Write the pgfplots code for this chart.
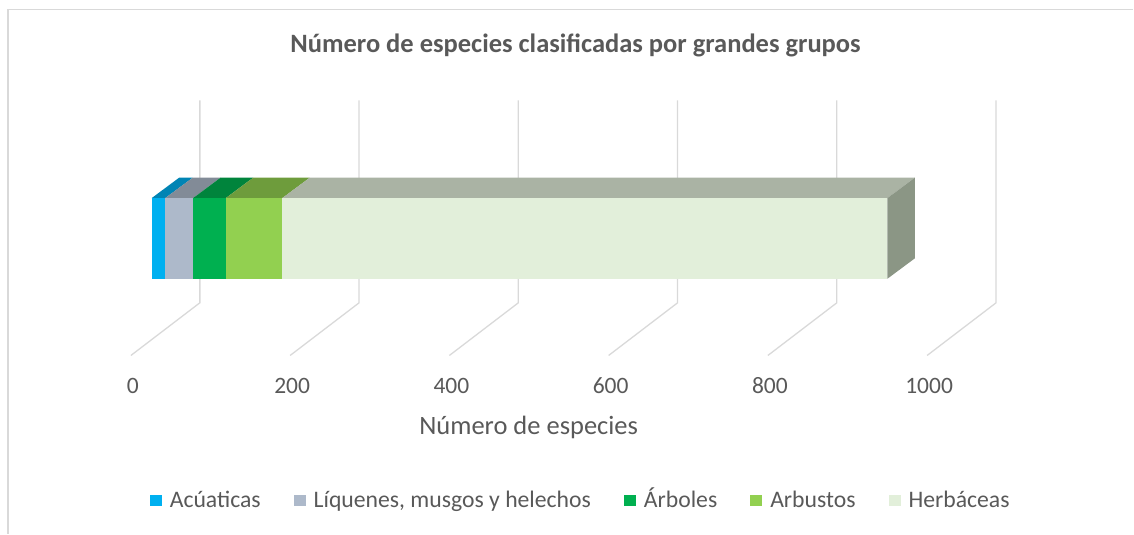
\documentclass[border=0pt]{standalone}
\usepackage{pgfplots}
\pgfplotsset{compat=1.18}
\usepackage{fontspec}
\setmainfont{Carlito}
\definecolor{txt}{HTML}{595959}
\definecolor{gridc}{HTML}{D9D9D9}
\definecolor{cAcu}{HTML}{00B0F0}
\definecolor{cAcuT}{HTML}{0084B4}
\definecolor{cLiq}{HTML}{ADB9CA}
\definecolor{cLiqT}{HTML}{828B97}
\definecolor{cArb}{HTML}{00B050}
\definecolor{cArbT}{HTML}{00843C}
\definecolor{cArs}{HTML}{92D050}
\definecolor{cArsT}{HTML}{6E9C3C}
\definecolor{cHer}{HTML}{E2EFDA}
\definecolor{cHerT}{HTML}{AAB3A4}
\definecolor{cHerS}{HTML}{8B9685}

\pgfplotsset{
  base/.style={width=1134bp,height=534bp,scale only axis,
    xmin=-190.4,xmax=1232.9,ymin=0,ymax=534,hide axis,clip=false},
  sq/.style={legend image code/.code={\fill[##1] (0bp,-6bp) rectangle (12bp,5bp);}},
  gl/.style={gridc, line width=1.3bp, forget plot},
  face/.style={draw=none, forget plot},
}
\begin{document}
\begin{tikzpicture}
\begin{axis}[base]
% full picture area
\path (axis description cs:0,0) rectangle (axis description cs:1,1);
% frame
\draw[gridc, line width=1.5bp] (axis description cs:0.00705,0) -- (axis description cs:0.00705,0.9826) -- (axis description cs:1,0.9826);
% gridlines (floor front -> back wall -> top)
\addplot[gl] coordinates {(-26,178.3) (60.6,231) (60.6,433.5)};
\addplot[gl] coordinates {(174,178.3) (260.6,231) (260.6,433.5)};
\addplot[gl] coordinates {(374,178.3) (460.6,231) (460.6,433.5)};
\addplot[gl] coordinates {(574,178.3) (660.6,231) (660.6,433.5)};
\addplot[gl] coordinates {(774,178.3) (860.6,231) (860.6,433.5)};
\addplot[gl] coordinates {(974,178.3) (1060.6,231) (1060.6,433.5)};
% top faces of the stacked bar
\addplot[face, fill=cAcuT] coordinates {(0,335.7) (17,335.7) (51.6,356.2) (34.6,356.2)} -- cycle;
\addplot[face, fill=cLiqT] coordinates {(17,335.7) (52,335.7) (86.6,356.2) (51.6,356.2)} -- cycle;
\addplot[face, fill=cArbT] coordinates {(52,335.7) (93,335.7) (127.6,356.2) (86.6,356.2)} -- cycle;
\addplot[face, fill=cArsT] coordinates {(93,335.7) (164,335.7) (198.6,356.2) (127.6,356.2)} -- cycle;
\addplot[face, fill=cHerT] coordinates {(164,335.7) (924,335.7) (958.6,356.2) (198.6,356.2)} -- cycle;
% right side face
\addplot[face, fill=cHerS] coordinates {(924,255) (924,335.7) (958.6,356.2) (958.6,275.5)} -- cycle;
% tick labels
\begin{scope}[every node/.style={text=txt, font=\fontsize{23.5bp}{28bp}\selectfont, anchor=base, inner sep=0pt}]
\node at (axis cs:-23.5,140.7) {0};
\node at (axis cs:176.5,140.7) {200};
\node at (axis cs:376.5,140.7) {400};
\node at (axis cs:576.5,140.7) {600};
\node at (axis cs:776.5,140.7) {800};
\node at (axis cs:976.5,140.7) {1000};
\end{scope}
% title and axis label
\node[text=txt, font=\fontsize{26.5bp}{31bp}\selectfont\bfseries, anchor=base, inner sep=0pt]
  at (axis description cs:0.5079,0.9021) {Número de especies clasificadas por grandes grupos};
\node[text=txt, font=\fontsize{26.5bp}{31bp}\selectfont, anchor=base, inner sep=0pt]
  at (axis description cs:0.4665,0.1867) {Número de especies};
\end{axis}
\begin{axis}[base, xbar stacked, bar width=80.7,
  legend columns=5,
  legend style={at={(axis description cs:0.5115,0.0637)}, anchor=center,
    draw=none, fill=none, text=txt, font=\fontsize{23.7bp}{28bp}\selectfont,
    nodes={inner sep=0pt},
    /tikz/every odd column/.append style={column sep=8bp},
    /tikz/every even column/.append style={column sep=33bp}},
  legend cell align=left]
\addplot[fill=cAcu, draw=none, sq] coordinates {(17,295.35)};
\addplot[fill=cLiq, draw=none, sq] coordinates {(35,295.35)};
\addplot[fill=cArb, draw=none, sq] coordinates {(41,295.35)};
\addplot[fill=cArs, draw=none, sq] coordinates {(71,295.35)};
\addplot[fill=cHer, draw=none, sq] coordinates {(760,295.35)};
\legend{Acúaticas, {Líquenes, musgos y helechos}, \smash{Á}rboles, Arbustos, Herbáceas}
\end{axis}
\end{tikzpicture}
\end{document}
